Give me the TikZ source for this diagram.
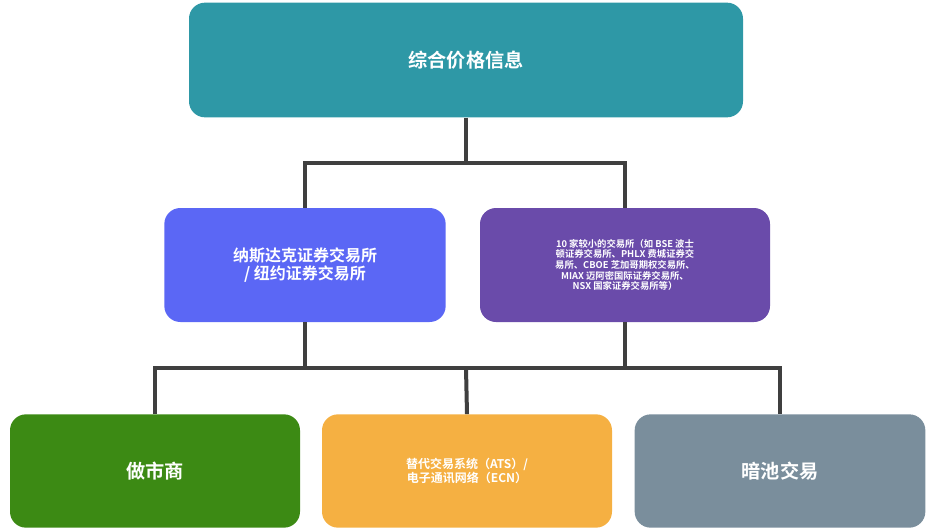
\documentclass[tikz,border=0pt]{standalone}
\usepackage{fontspec}
\setmainfont{Noto Sans CJK SC}[BoldFont={* Bold}]
\usetikzlibrary{positioning}
\definecolor{tealbox}{HTML}{2E98A6}
\definecolor{bluebox}{HTML}{5B67F5}
\definecolor{purplebox}{HTML}{6A4BAA}
\definecolor{greenbox}{HTML}{3C8A14}
\definecolor{orangebox}{HTML}{F5B042}
\definecolor{graybox}{HTML}{7A8E9C}
\definecolor{linegray}{HTML}{3F3F3F}
\tikzset{
x=0.75pt, y=-0.75pt,
box/.style={rounded corners=12pt, text=white, font=\bfseries, align=center, inner sep=0pt}, % common box look
link/.style={draw=linegray, line width=3pt}, % connector lines
}
\begin{document}
\begin{tikzpicture}
\useasboundingbox (0,0) rectangle (936,532);
\node[box, fill=tealbox, minimum width=415.5pt, minimum height=86pt, font=\bfseries\Large] (top) at (466,60) {综合价格信息};
\node[box, fill=bluebox, minimum width=211pt, minimum height=85.5pt, font=\bfseries\large] (nas) at (305,265) {纳斯达克证券交易所\\/ 纽约证券交易所};
\node[box, fill=purplebox, minimum width=217.5pt, minimum height=85.5pt, font=\bfseries\scriptsize] (small) at (625,265) {10 家较小的交易所（如 BSE 波士\\顿证券交易所、PHLX 费城证券交\\易所、CBOE 芝加哥期权交易所、\\MIAX 迈阿密国际证券交易所、\\NSX 国家证券交易所等）};
\node[box, fill=greenbox, minimum width=217.5pt, minimum height=85pt, font=\bfseries\Large] (mm) at (155,471) {做市商};
\node[box, fill=orangebox, minimum width=217.5pt, minimum height=85pt, font=\bfseries\small] (ats) at (467,471) {替代交易系统（ATS）/\\电子通讯网络（ECN）};
\node[box, fill=graybox, minimum width=218pt, minimum height=85pt, font=\bfseries\Large] (dark) at (780,471) {暗池交易};
\coordinate (ju) at (466,163);
\coordinate (jl) at (466,368);
\draw[link] (top.south) -- (ju);
\draw[link] (nas.north) |- (ju) -| (small.north);
\draw[link] (nas.south) |- (jl);
\draw[link] (small.south) |- (jl);
\draw[link] (mm.north) |- (jl) -| (dark.north);
\draw[link] (jl) -- (ats.north);
\end{tikzpicture}
\end{document}
